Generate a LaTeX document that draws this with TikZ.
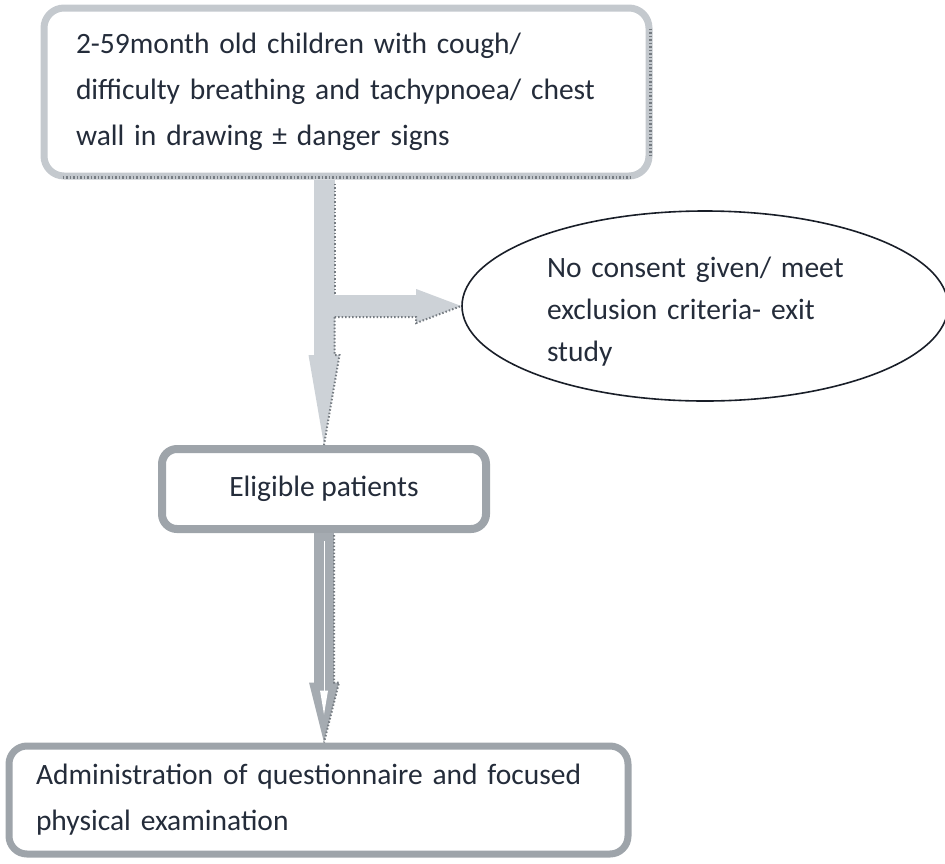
\documentclass[tikz,border=0pt]{standalone}
\usepackage{fontspec}
\setmainfont{Carlito}
\usetikzlibrary{arrows.meta,shapes.geometric,calc}
\definecolor{txt}{RGB}{36,44,58}
\definecolor{bordlight}{RGB}{196,201,206}
\definecolor{borddark}{RGB}{158,164,170}
\definecolor{arrlight}{RGB}{205,210,215}
\definecolor{arrdark}{RGB}{165,171,177}
\definecolor{hatchc}{RGB}{118,124,130}
\definecolor{ellline}{RGB}{25,30,40}
\begin{document}
\begin{tikzpicture}[x=1pt,y=-1pt,
  boxbase/.style={draw, fill=white, inner sep=0pt, text=txt,
    font=\fontsize{29.5}{46}\selectfont},
  hatchline/.style={hatchc, line width=2.5pt, dash pattern=on 1.5pt off 2pt}]
\useasboundingbox (0,0) rectangle (945,863);

% nodes
\node[boxbase, draw=bordlight, line width=7pt, rounded corners=20pt,
  minimum width=605pt, minimum height=168pt, text width=541pt, align=left]
  (top) at (346.5,92) {2-59month old children with cough/\\ difficulty breathing and tachypnoea/ chest\\ wall in drawing ± danger signs};

\node[boxbase, draw=borddark, line width=8pt, rounded corners=15pt,
  minimum width=324pt, minimum height=80pt]
  (elig) at (324,489) {Eligible patients};

\node[boxbase, draw=borddark, line width=7pt, rounded corners=18pt,
  minimum width=619pt, minimum height=108pt, text width=565pt, align=left]
  (bot) at (318.5,800) {Administration of questionnaire and focused\\ physical examination};

\node[ellipse, draw=ellline, line width=1.6pt, minimum width=486pt, minimum height=190pt,
  inner sep=0pt] (ell) at (705,306) {};
\node[text width=316pt, align=left, text=txt, inner sep=0pt,
  font=\fontsize{29.5}{42}\selectfont]
  (elltxt) at (705,312) {No consent given/ meet\\ exclusion criteria- exit\\ study};

% top box shadow hatch
\draw[hatchline] ($(top.south west)+(22,-2)$) -- ($(top.south east)+(-22,-2)$);
\draw[hatchline] ($(top.north east)+(-2,24)$) -- ($(top.south east)+(-2,-24)$);

% arrow 1 (top -> eligible) with branch to ellipse
\path (top.south -| elig.north) coordinate (a1s);
\path (a1s |- ell.west) ++(10.5,0) coordinate (br);
\draw[arrlight, line width=21pt, -{Triangle[length=90pt,width=31pt,line width=0pt]}]
  (a1s) -- (elig.north);
\draw[arrlight, line width=22pt, -{Triangle[length=45pt,width=34pt,line width=0pt]}]
  (br) -- (ell.west);
\draw[hatchline, line width=2pt] ($(a1s)+(10.5,4)$) -- ($(br)+(0,-11)$);
\draw[hatchline, line width=2pt] ($(br)+(0,11)$) -- ($(ell.west)+(-45,11)$) -- ($(ell.west)+(-45,17)$) -- (ell.west);
\draw[hatchline, line width=2pt] ($(br)+(0,11)$) -- ($(elig.north)+(10.5,-90)$) -- ($(elig.north)+(15.5,-90)$) -- (elig.north);

% arrow 2 (eligible -> bottom)
\path (elig.south |- bot.north) coordinate (a2e);
\draw[arrdark, line width=20pt, -{Triangle[length=60pt,width=30pt,line width=0pt]}]
  (elig.south) -- (a2e);
\draw[hatchline, line width=2pt] ($(elig.south)+(10,2)$) -- ($(a2e)+(10,-60)$) -- ($(a2e)+(15,-60)$) -- (a2e);
\draw[white, line width=0.9pt] ($(elig.south)+(0,8)$) -- ($(a2e)+(0,-52)$);
\fill[white] ($(a2e)+(-4,-52)$) -- ($(a2e)+(4,-52)$) -- ($(a2e)+(0,-28)$) -- cycle;
\end{tikzpicture}
\end{document}
